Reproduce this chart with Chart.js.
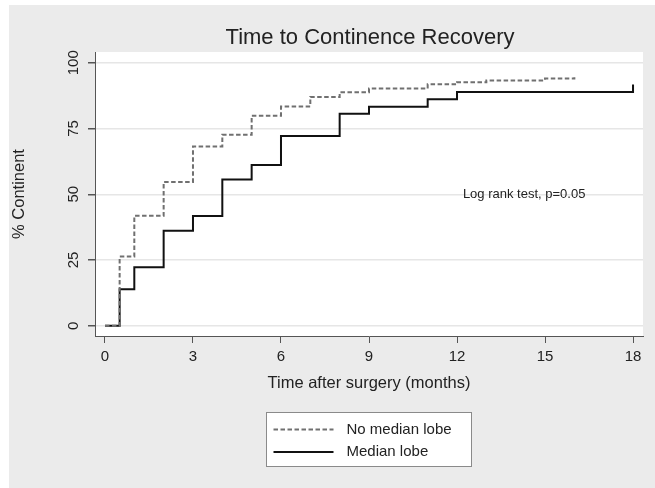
<!DOCTYPE html>
<html>
<head>
<meta charset="utf-8">
<title>Time to Continence Recovery</title>
<script src="https://cdn.jsdelivr.net/npm/chart.js@4.4.1/dist/chart.umd.min.js"></script>
<style>
  html, body { margin: 0; padding: 0; background: #fff; }
  #wrap { position: relative; width: 655px; height: 488px; }
</style>
</head>
<body>
<div id="wrap"><canvas id="myChart" width="655" height="488"></canvas></div>
<script>
// months after surgery where each curve steps up, and the % continent reached there
var noLobeMonths = [0, 0.5, 1, 2, 3, 4, 5, 6, 7, 8, 9, 11, 12, 13, 15, 16];
var noLobeValues = [0, 26.3, 41.8, 54.7, 68.2, 72.6, 79.9, 83.4, 87.0, 88.8, 90.2, 91.8, 92.6, 93.3, 94.0, 94.5];
var lobeMonths = [0, 0.5, 1, 2, 3, 4, 5, 6, 8, 9, 11, 12, 18];
var lobeValues = [0, 13.9, 22.2, 36.1, 41.7, 55.6, 61.1, 72.2, 80.6, 83.3, 86.1, 88.9, 91.7];

var xTicks = [0, 3, 6, 9, 12, 15, 18];
var yTicks = [0, 25, 50, 75, 100];
var seriesNames = ['No median lobe', 'Median lobe'];
var chartTitle = 'Time to Continence Recovery';
var noteText = 'Log rank test, p=0.05';

var FONT = '"Liberation Sans", Arial, Helvetica, sans-serif';
Chart.defaults.font.family = FONT;
Chart.defaults.color = '#222';

function toPoints(xs, ys) {
  return xs.map(function (x, i) { return { x: x, y: ys[i] }; });
}

// grey panel + white plot region, then title, note and the boxed legend
var stataLook = {
  id: 'stataLook',
  beforeDraw: function (chart) {
    var ctx = chart.ctx, a = chart.chartArea;
    ctx.save();
    ctx.fillStyle = '#ebebeb';
    ctx.fillRect(9, 5, chart.width - 9, chart.height - 5);
    ctx.fillStyle = '#fff';
    ctx.fillRect(a.left, a.top, a.right - a.left, a.bottom - a.top);
    ctx.restore();
  },
  afterDraw: function (chart) {
    var ctx = chart.ctx, a = chart.chartArea;
    var mid = (a.left + a.right) / 2;
    ctx.save();
    ctx.fillStyle = '#222';
    ctx.font = '22px ' + FONT;
    ctx.textAlign = 'center';
    ctx.textBaseline = 'middle';
    ctx.fillText(chartTitle, mid + 1, 38);

    ctx.font = '13px ' + FONT;
    ctx.textAlign = 'left';
    ctx.fillText(noteText, chart.scales.x.getPixelForValue(12.2), chart.scales.y.getPixelForValue(50));

    // legend box
    var bw = 205, bh = 54;
    var bx = Math.round(mid - bw / 2) - 1 + 0.5, by = a.bottom + 76 + 0.5;
    ctx.fillStyle = '#fff';
    ctx.fillRect(bx, by, bw, bh);
    ctx.strokeStyle = '#8a8a8a';
    ctx.lineWidth = 1;
    ctx.strokeRect(bx, by, bw, bh);
    ctx.font = '15px ' + FONT;
    chart.data.datasets.forEach(function (ds, i) {
      var ly = by + 17 + i * 22.5;
      ctx.beginPath();
      ctx.setLineDash(ds.borderDash || []);
      ctx.strokeStyle = ds.borderColor;
      ctx.lineWidth = ds.borderWidth;
      ctx.moveTo(bx + 7, ly);
      ctx.lineTo(bx + 67, ly);
      ctx.stroke();
      ctx.setLineDash([]);
      ctx.fillStyle = '#222';
      ctx.fillText(ds.label, bx + 80, ly);
    });
    ctx.restore();
  }
};

var ctx = document.getElementById('myChart');
var myChart = new Chart(ctx, {
  type: 'line',
  data: {
    datasets: [{
      label: seriesNames[0],
      data: toPoints(noLobeMonths, noLobeValues),
      borderColor: '#707070',
      borderWidth: 2,
      borderDash: [4.5, 2.5],
      stepped: true,
      pointRadius: 0,
      fill: false
    }, {
      label: seriesNames[1],
      data: toPoints(lobeMonths, lobeValues),
      borderColor: '#111',
      borderWidth: 2,
      stepped: true,
      pointRadius: 0,
      fill: false
    }]
  },
  options: {
    responsive: false,
    animation: false,
    layout: { padding: { left: 9, top: 52, right: 12, bottom: 90 } },
    plugins: {
      legend: { display: false },
      title: { display: false },
      tooltip: { enabled: false }
    },
    scales: {
      x: {
        type: 'linear',
        min: -0.34,
        max: 18.34,
        afterBuildTicks: function (s) { s.ticks = xTicks.map(function (v) { return { value: v }; }); },
        afterFit: function (s) { s.height = 62; },
        grid: { drawOnChartArea: false, tickLength: 7, tickColor: '#555' },
        border: { color: '#555', width: 1 },
        ticks: { padding: 5, maxRotation: 0, autoSkip: false, font: { size: 15 }, color: '#222' },
        title: { display: true, text: 'Time after surgery (months)', font: { size: 16.5 }, color: '#222', padding: { top: 0, bottom: 5 } }
      },
      y: {
        min: -3.9,
        max: 104.1,
        afterBuildTicks: function (s) { s.ticks = yTicks.map(function (v) { return { value: v }; }); },
        afterFit: function (s) { s.width = 86; },
        grid: { color: '#e6e6e6', lineWidth: 1.5, tickLength: 7, tickColor: '#555' },
        border: { color: '#555', width: 1 },
        ticks: { padding: 1.5, minRotation: 90, maxRotation: 90, crossAlign: 'center', font: { size: 15 }, color: '#222' },
        title: { display: true, text: '% Continent', font: { size: 16.5 }, color: '#222', padding: { top: 1, bottom: 0 } }
      }
    }
  },
  plugins: [stataLook]
});
</script>
</body>
</html>
